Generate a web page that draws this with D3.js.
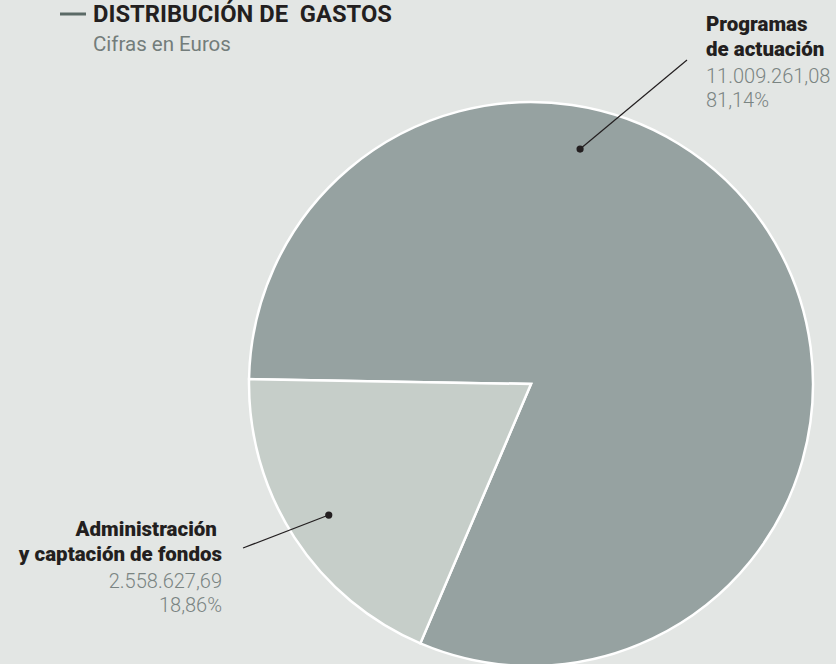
<!DOCTYPE html>
<html>
<head>
<meta charset="utf-8">
<script src="https://cdn.jsdelivr.net/npm/d3@7"></script>
<style>
  html, body { margin: 0; padding: 0; background: #e3e6e4; }
  svg { display: block; }
</style>
</head>
<body>
<div id="chart"></div>
<script>
// data
var categories = ["Programas de actuación", "Administración y captación de fondos"];
var amounts = [11009261.08, 2558627.69];
var amountLabels = ["11.009.261,08", "2.558.627,69"];
var percentLabels = ["81,14%", "18,86%"];
var nameLines = [["Programas", "de actuación"], ["Administración ", "y captación de fondos"]];

var width = 836, height = 664;
var cx = 531, cy = 384, radius = 282;

var svg = d3.select("#chart")
  .append("svg")
  .attr("width", width)
  .attr("height", height);

svg.append("rect")
  .attr("width", width)
  .attr("height", height)
  .attr("fill", "#e3e6e4");

// title
svg.append("line")
  .attr("x1", 60).attr("x2", 86)
  .attr("y1", 14).attr("y2", 14)
  .attr("stroke", "#5b6a66")
  .attr("stroke-width", 3);

svg.append("text")
  .attr("x", 93).attr("y", 22)
  .attr("font-family", "Roboto, sans-serif")
  .attr("font-weight", 700)
  .attr("font-size", 23)
  .attr("fill", "#231f20")
  .attr("textLength", 299)
  .attr("lengthAdjust", "spacingAndGlyphs")
  .text("DISTRIBUCIÓN DE  GASTOS")
  .style("white-space", "pre");

svg.append("text")
  .attr("x", 93).attr("y", 51)
  .attr("font-family", "Roboto, sans-serif")
  .attr("font-weight", 400)
  .attr("font-size", 20.5)
  .attr("fill", "#737d7b")
  .text("Cifras en Euros");

// pie
var color = d3.scaleOrdinal()
  .domain(categories)
  .range(["#96a2a1", "#c6cec9"]);

var startAngle = 271 * Math.PI / 180;
var pie = d3.pie()
  .sort(null)
  .value(function(d) { return d; })
  .startAngle(startAngle)
  .endAngle(startAngle + 2 * Math.PI);

var arcs = pie(amounts);
var arc = d3.arc().innerRadius(0).outerRadius(radius);

var g = svg.append("g")
  .attr("transform", "translate(" + cx + "," + cy + ")");

g.selectAll("path")
  .data(arcs)
  .enter()
  .append("path")
  .attr("d", arc)
  .attr("fill", function(d, i) { return color(categories[i]); })
  .attr("stroke", "#ffffff")
  .attr("stroke-width", 2.5)
  .attr("stroke-linejoin", "miter");

// leader lines: dot inside slice, line out to label
function polar(a, r) {
  return [cx + Math.sin(a) * r, cy - Math.cos(a) * r];
}
var dotAngles = [11.8 * Math.PI / 180, (arcs[1].startAngle + arcs[1].endAngle) / 2];
var dotRadius = [240, 241];
var lineEnds = [[687, 60], [243, 548]];

dotAngles.forEach(function(a, i) {
  var p = polar(a, dotRadius[i]);
  svg.append("line")
    .attr("x1", p[0]).attr("y1", p[1])
    .attr("x2", lineEnds[i][0]).attr("y2", lineEnds[i][1])
    .attr("stroke", "#231f20")
    .attr("stroke-width", 1.2);
  svg.append("circle")
    .attr("cx", p[0]).attr("cy", p[1])
    .attr("r", 3.6)
    .attr("fill", "#231f20");
});

// labels
var labelX = [706, 222];
var labelAnchor = ["start", "end"];
var labelY = [31, 536];

categories.forEach(function(c, i) {
  var t = svg.append("g");
  nameLines[i].forEach(function(s, k) {
    t.append("text")
      .attr("x", labelX[i]).attr("y", labelY[i] + k * 25)
      .attr("text-anchor", labelAnchor[i])
      .attr("font-family", "Roboto, sans-serif")
      .attr("font-weight", 900)
      .attr("font-size", 20.5)
      .attr("fill", "#231f20")
      .style("white-space", "pre")
      .text(s);
  });
  [amountLabels[i], percentLabels[i]].forEach(function(s, k) {
    t.append("text")
      .attr("x", labelX[i]).attr("y", labelY[i] + 52 + k * 24)
      .attr("text-anchor", labelAnchor[i])
      .attr("font-family", "Roboto, sans-serif")
      .attr("font-weight", 300)
      .attr("font-size", 20)
      .attr("fill", "#7a8482")
      .text(s);
  });
});
</script>
</body>
</html>
